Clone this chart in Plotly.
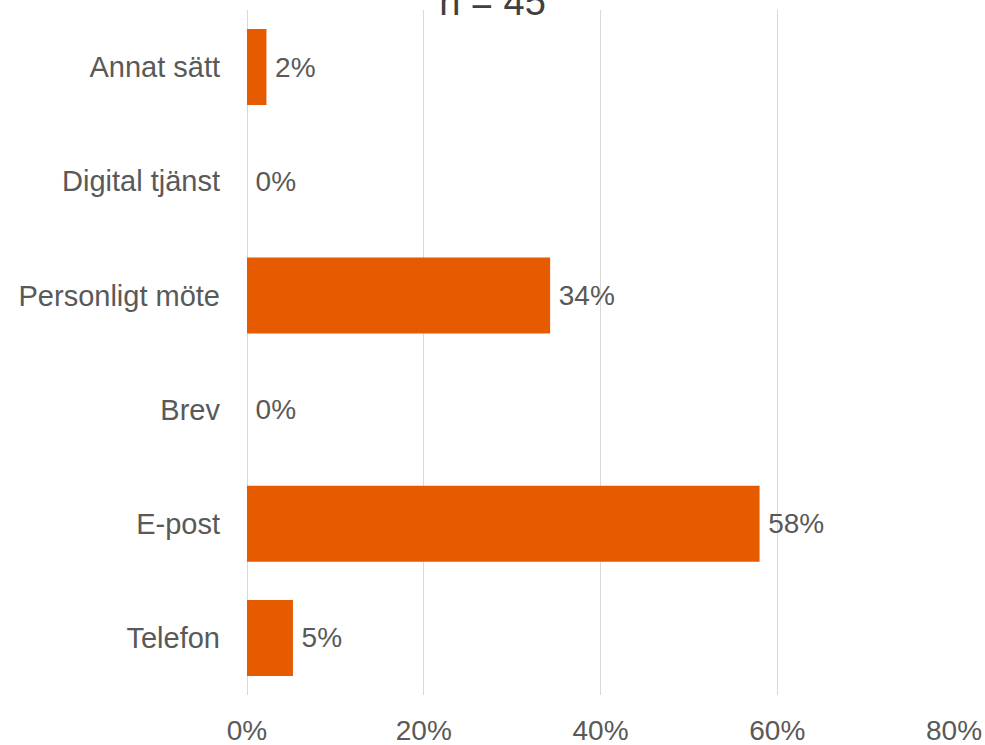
import plotly.graph_objects as go

categories = ["Telefon", "E-post", "Brev", "Personligt möte", "Digital tjänst", "Annat sätt"]
values = [0.052, 0.58, 0.0, 0.343, 0.0, 0.022]
x_ticks = [0, 0.2, 0.4, 0.6, 0.8]
x_tick_labels = ["0%", "20%", "40%", "60%", "80%"]
title_text = "n = 45"

FONT = "Liberation Sans"
GRAY = "#595959"

fig = go.Figure(
    go.Bar(
        x=values,
        y=categories,
        orientation="h",
        marker=dict(color="#E65A00", line=dict(width=0)),
        texttemplate="\u2009%{x:.0%}",
        textposition="outside",
        cliponaxis=False,
        textfont=dict(family=FONT, size=28, color=GRAY),
        hoverinfo="skip",
    )
)

fig.update_layout(
    width=985,
    height=745,
    margin=dict(l=247, r=31, t=10, b=50, autoexpand=False),
    paper_bgcolor="white",
    plot_bgcolor="white",
    bargap=0.335,
    showlegend=False,
    title=dict(
        text=title_text,
        x=0.5,
        xanchor="center",
        xref="container",
        yref="container",
        y=0.9797,
        yanchor="bottom",
        automargin=False,
        font=dict(family=FONT, size=38, color="#404040"),
    ),
    font=dict(family=FONT, size=29, color=GRAY),
)

fig.update_xaxes(
    range=[0, 0.8],
    tickvals=x_ticks,
    ticktext=x_tick_labels,
    showgrid=True,
    gridcolor="#D9D9D9",
    gridwidth=1,
    zeroline=True,
    zerolinecolor="#D9D9D9",
    zerolinewidth=1,
    showline=False,
    ticks="",
    automargin=False,
    ticklabelstandoff=16,
    tickfont=dict(family=FONT, size=28, color=GRAY),
    fixedrange=True,
)
fig.update_yaxes(
    categoryorder="array",
    categoryarray=categories,
    showgrid=False,
    zeroline=False,
    showline=False,
    ticks="",
    automargin=False,
    ticklabelstandoff=26,
    tickfont=dict(family=FONT, size=29, color=GRAY),
    fixedrange=True,
)

fig.write_html(
    "out.html",
    config={"displayModeBar": False},
    post_script="document.body.style.margin='0px';document.body.style.padding='0px';",
)
